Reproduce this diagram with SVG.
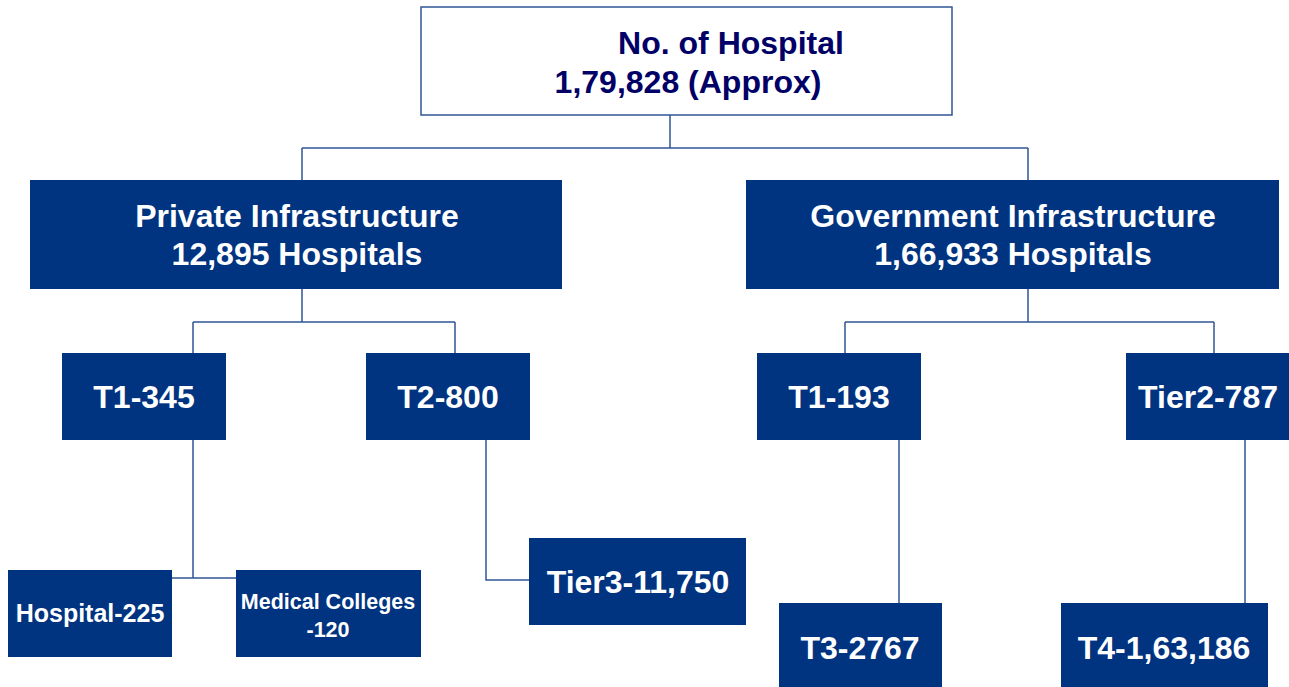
<svg xmlns="http://www.w3.org/2000/svg" width="1289" height="687" viewBox="0 0 1289 687">
<style>
.box{fill:#003380;}
.wt{fill:#ffffff;font-family:"Liberation Sans",Arial,sans-serif;font-weight:bold;text-anchor:middle;}
.nt{fill:#000066;font-family:"Liberation Sans",Arial,sans-serif;font-weight:bold;text-anchor:middle;font-size:32px;}
.ln{fill:none;stroke:#2F5597;stroke-width:1.5;}
</style>
<rect width="1289" height="687" fill="#ffffff"/>
<g id="connectors">
<path class="ln" d="M670,115 V148 M302,148 H1028 M302,148 V180 M1028,148 V180"/>
<path class="ln" d="M302,289 V322 M193,322 H455 M193,322 V353 M455,322 V353"/>
<path class="ln" d="M1028,289 V322 M845,322 H1214 M845,322 V353 M1214,322 V353"/>
<path class="ln" d="M193,440 V578 M172,578 H236"/>
<path class="ln" d="M486,440 V580 H529"/>
<path class="ln" d="M899,440 V603"/>
<path class="ln" d="M1245,440 V603"/>
</g>
<g id="root">
<rect x="421" y="7" width="531" height="108" fill="#ffffff" stroke="#2F5597" stroke-width="1.5"/>
<text class="nt" x="731" y="54">No. of Hospital</text>
<text class="nt" x="688" y="93">1,79,828 (Approx)</text>
</g>
<g id="private">
<rect class="box" x="30" y="180" width="532" height="109"/>
<text class="wt" x="297" y="227" font-size="32">Private Infrastructure</text>
<text class="wt" x="297" y="265" font-size="32">12,895 Hospitals</text>
</g>
<g id="government">
<rect class="box" x="746" y="180" width="533" height="109"/>
<text class="wt" x="1013" y="227" font-size="32">Government Infrastructure</text>
<text class="wt" x="1013" y="265" font-size="32">1,66,933 Hospitals</text>
</g>
<g id="t1-345">
<rect class="box" x="62" y="353" width="164" height="87"/>
<text class="wt" x="144" y="408" font-size="32">T1-345</text>
</g>
<g id="t2-800">
<rect class="box" x="366" y="353" width="164" height="87"/>
<text class="wt" x="448" y="408" font-size="32">T2-800</text>
</g>
<g id="t1-193">
<rect class="box" x="757" y="353" width="164" height="87"/>
<text class="wt" x="839" y="408" font-size="32">T1-193</text>
</g>
<g id="tier2-787">
<rect class="box" x="1126" y="353" width="170" height="87"/>
<text class="wt" x="1208" y="408" font-size="32">Tier2-787</text>
</g>
<g id="hospital-225">
<rect class="box" x="8" y="570" width="164" height="87"/>
<text class="wt" x="90" y="622" font-size="25">Hospital-225</text>
</g>
<g id="medical-colleges">
<rect class="box" x="236" y="570" width="185" height="87"/>
<text class="wt" x="328" y="609" font-size="21.5">Medical Colleges</text>
<text class="wt" x="328" y="637" font-size="21.5">-120</text>
</g>
<g id="tier3">
<rect class="box" x="529" y="538" width="217" height="87"/>
<text class="wt" x="638" y="593" font-size="32">Tier3-11,750</text>
</g>
<g id="t3-2767">
<rect class="box" x="779" y="603" width="163" height="90"/>
<text class="wt" x="860" y="659" font-size="32">T3-2767</text>
</g>
<g id="t4">
<rect class="box" x="1061" y="603" width="207" height="90"/>
<text class="wt" x="1164" y="659" font-size="32">T4-1,63,186</text>
</g>
</svg>
